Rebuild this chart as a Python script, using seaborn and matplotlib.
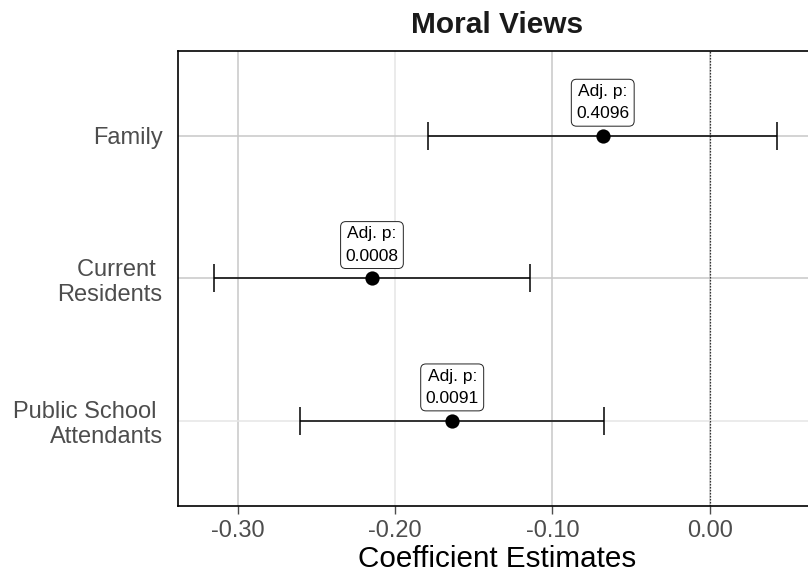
import numpy as np
import pandas as pd
import matplotlib
matplotlib.use("Agg")
import matplotlib.pyplot as plt
import seaborn as sns

# Model estimates for the "Moral Views" outcome
groups = ["Family", "Current \nResidents", "Public School \nAttendants"]
estimates = [-0.068, -0.2147, -0.1637]
ci_low = [-0.1789, -0.3151, -0.2605]
ci_high = [0.0426, -0.1144, -0.0674]
adj_p = ["0.4096", "0.0008", "0.0091"]
x_ticks = [-0.30, -0.20, -0.10, 0.00]

df = pd.DataFrame({
    "group": groups,
    "pos": np.arange(len(groups)),
    "estimate": estimates,
    "low": ci_low,
    "high": ci_high,
    "p": adj_p,
})

sns.set_theme(style="white")
plt.rcParams["font.family"] = ["Liberation Sans", "DejaVu Sans"]

fig = plt.figure(figsize=(8.08, 5.75), dpi=100)
W, H = 808, 575
left, right, top, bottom = 178, 817, 50.5, 506
ax = fig.add_axes([left / W, 1 - bottom / H, (right - left) / W, (bottom - top) / H])

ax.set_xlim(-0.338, 0.0682)
ax.set_ylim(2.6, -0.6)

# grid
ax.set_xticks(x_ticks)
ax.set_xticklabels([f"{t:.2f}" for t in x_ticks])
ax.set_yticks(df["pos"])
ax.set_yticklabels(df["group"])
ax.grid(True, which="major", lw=1.1, color="#c8c8c8", zorder=0)
xg = ax.get_xgridlines()
xg[1].set_color("#e6e6e6")
yg = ax.get_ygridlines()
yg[2].set_color("#e6e6e6")
ax.set_axisbelow(True)

# reference line at zero
ax.axvline(0, color="#333333", lw=0.9, ls=(0, (1.2, 1.2)), zorder=1)

# confidence intervals
ax.errorbar(
    x=df["estimate"], y=df["pos"],
    xerr=[df["estimate"] - df["low"], df["high"] - df["estimate"]],
    fmt="none", ecolor="black", elinewidth=1.1, capsize=10, capthick=1.1, zorder=2,
)

# point estimates
sns.scatterplot(data=df, x="estimate", y="pos", color="black", s=105,
                edgecolor="black", linewidth=0, ax=ax, zorder=3, legend=False)

# adjusted p-value labels
for _, row in df.iterrows():
    ax.annotate(
        f"Adj. p:\n{row['p']}",
        xy=(row["estimate"], row["pos"]), xytext=(0, 10.5), textcoords="offset points",
        ha="center", va="bottom", fontsize=12.5, linespacing=1.6, color="black",
        bbox=dict(boxstyle="round,pad=0.28,rounding_size=0.3", fc="white", ec="#222222", lw=0.7),
        zorder=4,
    )

ax.set_xlabel("Coefficient Estimates", fontsize=21.3, color="black", labelpad=2.5)
ax.set_ylabel("")
ax.tick_params(axis="x", labelsize=17, colors="#4d4d4d", length=6, width=1.0,
               direction="out", pad=4, bottom=True)
ax.tick_params(axis="y", labelsize=17, colors="#4d4d4d", length=0, pad=11, left=False)
for lab in ax.get_yticklabels():
    lab.set_ha("right")
    lab.set_multialignment("right")
for sp in ax.spines.values():
    sp.set_color("black")
    sp.set_linewidth(1.2)

fig.text((left + right) / 2 / W, 1 - 25 / H, "Moral Views", ha="center", va="center",
         fontsize=21.5, fontweight="bold", color="#1a1a1a")

fig.savefig("out.png", dpi=100)
